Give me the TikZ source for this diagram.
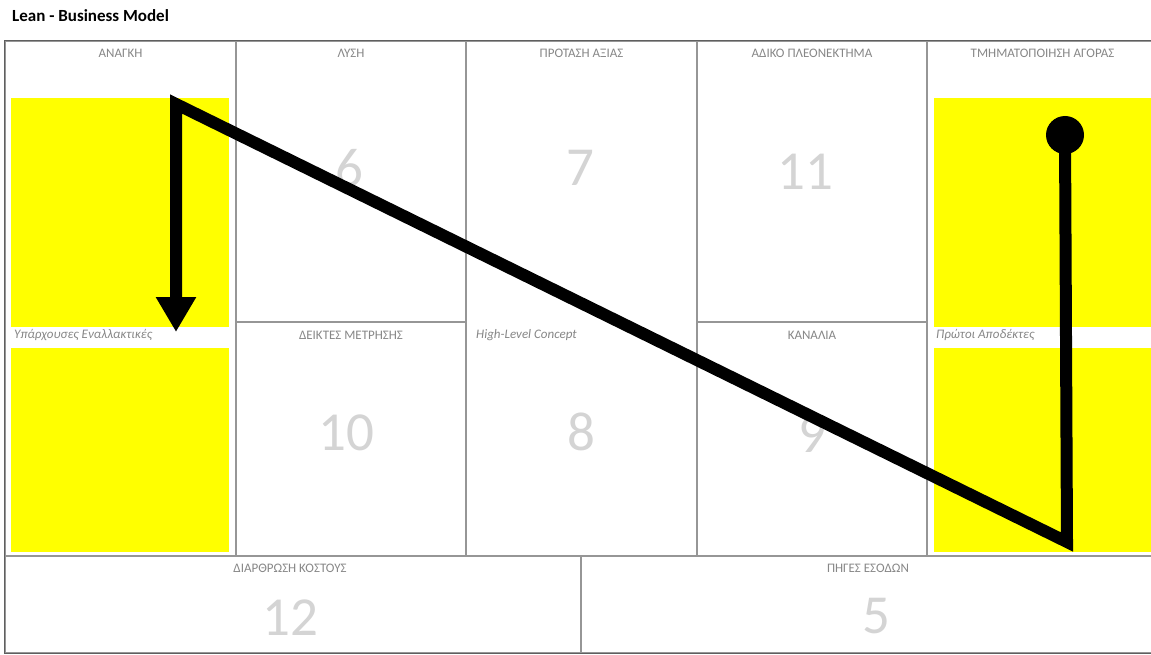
\documentclass[tikz,border=0pt]{standalone}
\usepackage{fontspec}
\setmainfont{Carlito}
\usepackage{tikz}
\usetikzlibrary{arrows.meta}
\definecolor{gridline}{RGB}{150,150,150}
\definecolor{frameline}{RGB}{95,95,95}
\definecolor{headgray}{RGB}{135,135,135}
\definecolor{numgray}{RGB}{212,212,212}
\definecolor{boxyellow}{RGB}{255,255,0}

\begin{document}
\begin{tikzpicture}[
    x=1pt,y=-1pt,
    cell/.style={
        draw=gridline,
        line width=1.1pt,
        inner sep=0pt,
    },
    hilite/.style={
        fill=boxyellow,
        inner sep=0pt,
    },
    head/.style={
        font=\fontsize{13}{15}\selectfont,
        text=headgray,
        inner sep=0pt,
    },
    note/.style={
        font=\fontsize{13}{15}\selectfont\itshape,
        text=headgray,
        anchor=west,
        inner sep=0pt,
    },
    bignum/.style={
        font=\fontsize{55}{60}\selectfont,
        text=numgray,
        inner sep=0pt,
    },
    flow/.style={
        line width=12pt,
        color=black,
        -{Triangle[width=38pt,length=35pt]},
    },
]
\clip (0,0) rectangle (1151,655);
\fill[white] (0,0) rectangle (1151,655);

\node[anchor=west,font=\fontsize{17}{19}\selectfont\bfseries,inner sep=0pt] (title) at (12,16) {Lean - Business Model};

\node[cell,minimum width=231pt,minimum height=515pt] (need) at (120.5,298.5) {};
\node[cell,minimum width=230pt,minimum height=281pt] (solution) at (351,181.5) {};
\node[cell,minimum width=230pt,minimum height=234pt] (metrics) at (351,439) {};
\node[cell,minimum width=231pt,minimum height=515pt] (uvp) at (581.5,298.5) {};
\node[cell,minimum width=230pt,minimum height=281pt] (advantage) at (812,181.5) {};
\node[cell,minimum width=230pt,minimum height=234pt] (channels) at (812,439) {};
\node[cell,minimum width=231pt,minimum height=515pt] (segments) at (1042.5,298.5) {};
\node[cell,minimum width=576pt,minimum height=97pt] (cost) at (293,604.5) {};
\node[cell,minimum width=577pt,minimum height=97pt] (revenue) at (869.5,604.5) {};
\draw[frameline,line width=1.6pt] (need.north west) rectangle (revenue.south east);

\node[hilite,minimum width=218pt,minimum height=229pt] (needbox) at (120,212.5) {};
\node[hilite,minimum width=218pt,minimum height=204pt] (altbox) at (120,450) {};
\node[hilite,minimum width=224pt,minimum height=229pt] (segbox) at (1046,212.5) {};
\node[hilite,minimum width=224pt,minimum height=204pt] (earlybox) at (1046,450) {};

\node[head] (needhead) at (120.5,53) {ΑΝΑΓΚΗ};
\node[head] (solutionhead) at (351,53) {ΛΥΣΗ};
\node[head] (uvphead) at (581.5,53) {ΠΡΟΤΑΣΗ ΑΞΙΑΣ};
\node[head] (advantagehead) at (812,53) {ΑΔΙΚΟ ΠΛΕΟΝΕΚΤΗΜΑ};
\node[head] (segmentshead) at (1042.5,53) {ΤΜΗΜΑΤΟΠΟΙΗΣΗ ΑΓΟΡΑΣ};
\node[head] (metricshead) at (351,335) {ΔΕΙΚΤΕΣ ΜΕΤΡΗΣΗΣ};
\node[head] (channelshead) at (812,335) {ΚΑΝΑΛΙΑ};
\node[head] (costhead) at (290,568) {ΔΙΑΡΘΡΩΣΗ ΚΟΣΤΟΥΣ};
\node[head] (revenuehead) at (868,568) {ΠΗΓΕΣ ΕΣΟΔΩΝ};

\node[note] (altnote) at (14,335) {Υπάρχουσες Εναλλακτικές};
\node[note] (conceptnote) at (476,335) {High-Level Concept};
\node[note] (earlynote) at (936,335) {Πρώτοι Αποδέκτες};

\node[bignum] (n6) at (349,168) {6};
\node[bignum] (n7) at (580,168) {7};
\node[bignum] (n11) at (805,172) {11};
\node[bignum] (n10) at (346,433) {10};
\node[bignum] (n8) at (581,432) {8};
\node[bignum] (n9) at (812,435) {9};
\node[bignum] (n12) at (290,618) {12};
\node[bignum] (n5) at (876,616) {5};

\node[circle,fill=black,minimum size=38pt,inner sep=0pt] (start) at (1065,135) {};
\coordinate (low) at (1067,542);
\coordinate (high) at (176,104);
\coordinate (finish) at (176,332);
\draw[flow] (start.center) -- (low) -- (high) -- (finish);
\end{tikzpicture}
\end{document}
